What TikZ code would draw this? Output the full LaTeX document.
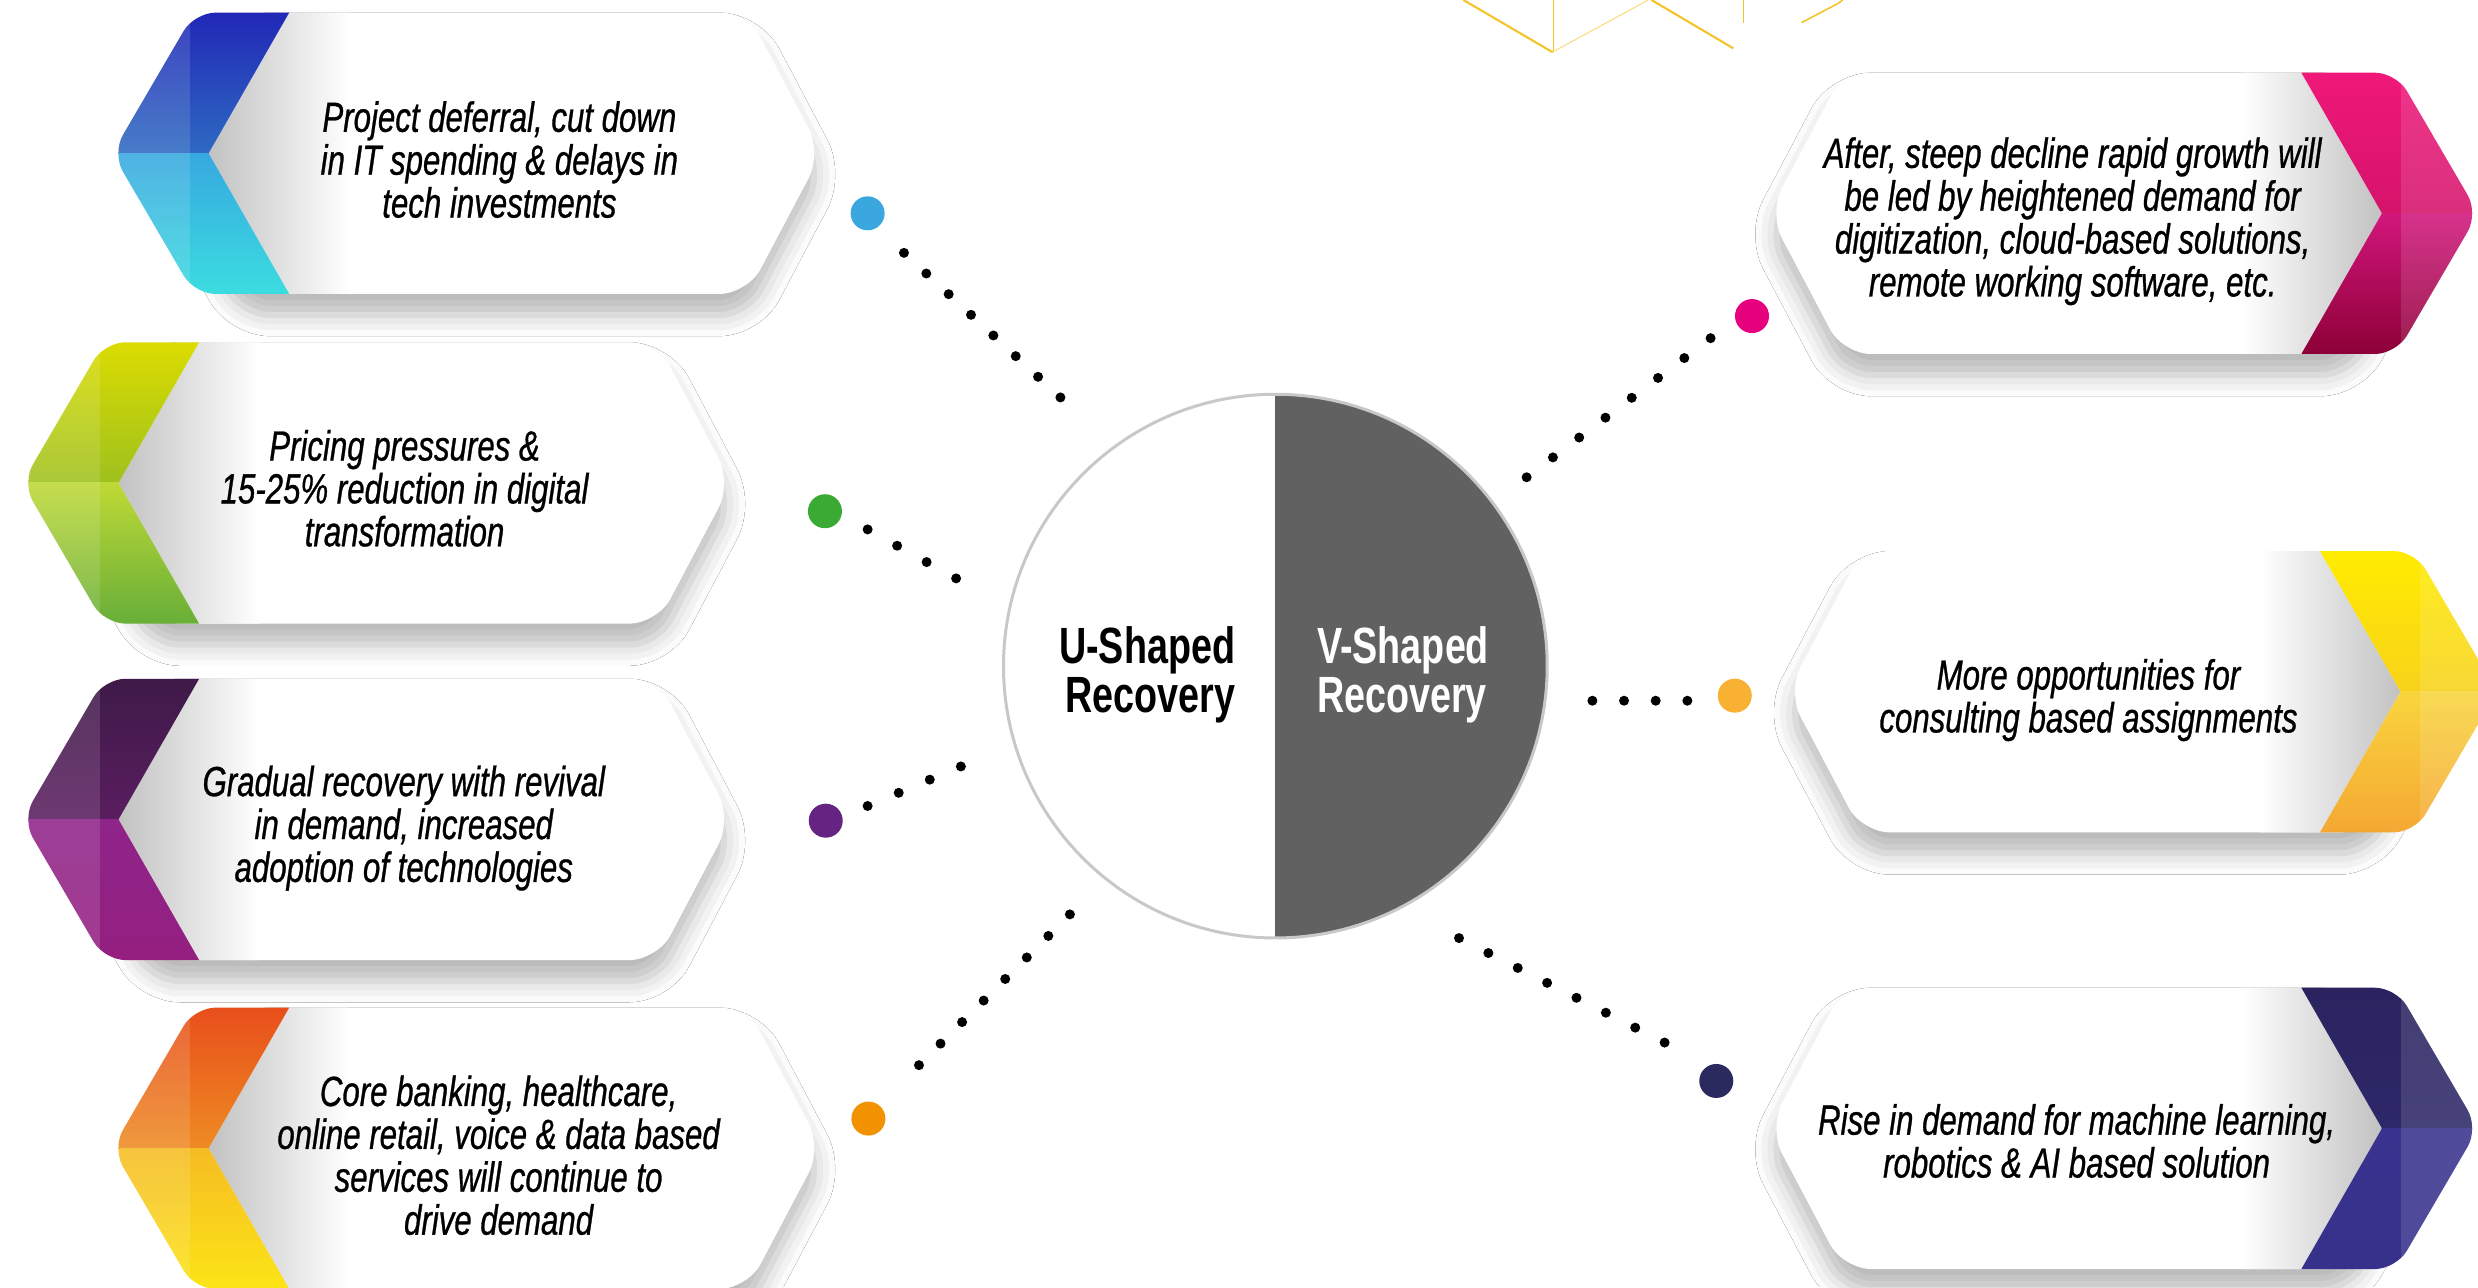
\documentclass[tikz,border=0pt]{standalone}
\usepackage{fontspec}
\newfontfamily\cardfont{Liberation Sans}[FakeStretch=0.74, FakeBold=0.7]
\newfontfamily\hubfont{Liberation Sans}[FakeStretch=0.74]
\usetikzlibrary{calc,shadows.blur}

\definecolor{blueA}{HTML}{2127B6}
\definecolor{blueB}{HTML}{2E6AC2}
\definecolor{blueC}{HTML}{37A8E0}
\definecolor{blueD}{HTML}{3BDDE0}
\definecolor{limeA}{HTML}{DCDC00}
\definecolor{limeB}{HTML}{9EC11E}
\definecolor{limeC}{HTML}{BED936}
\definecolor{limeD}{HTML}{67AE38}
\definecolor{plumA}{HTML}{3E1A48}
\definecolor{plumB}{HTML}{5A1D5F}
\definecolor{plumC}{HTML}{8F2489}
\definecolor{plumD}{HTML}{941F80}
\definecolor{amberA}{HTML}{E84E1B}
\definecolor{amberB}{HTML}{EE8B23}
\definecolor{amberC}{HTML}{F6BC23}
\definecolor{amberD}{HTML}{FCE516}
\definecolor{pinkA}{HTML}{F0187A}
\definecolor{pinkB}{HTML}{D5136B}
\definecolor{pinkC}{HTML}{D2167C}
\definecolor{pinkD}{HTML}{8C0036}
\definecolor{sunA}{HTML}{FFEC00}
\definecolor{sunB}{HTML}{F8D21A}
\definecolor{sunC}{HTML}{F9D53D}
\definecolor{sunD}{HTML}{F4A733}
\definecolor{navyA}{HTML}{2A2360}
\definecolor{navyB}{HTML}{2D2868}
\definecolor{navyC}{HTML}{39338F}
\definecolor{navyD}{HTML}{36318A}
\definecolor{hubgray}{HTML}{616161}
\definecolor{ringgray}{HTML}{C8C8C8}
\definecolor{gold}{HTML}{F5C42A}

% chevron card: tip x, centre y, xscale, palette, notch shade
\newcommand{\chevcard}[5]{%
    \begin{scope}[shift={(#1,#2)}, xscale=#3]
        \fill[white, rounded corners=8pt,
              blur shadow={shadow xshift=0pt, shadow yshift=-6pt,
                           shadow blur radius=6pt, shadow opacity=28}]
            (31,0) -- (82,-89) -- (402,-89) -- (449,0) -- (402,89) -- (82,89) -- cycle;
        \shade[#5] (61,0) -- (112,-89) -- (150,-89) -- (150,89) -- (112,89) -- cycle;
        \begin{scope}
            \clip (61,0) -- (112,-89) [rounded corners=6pt] -- (52,-89) -- (0,0)
                -- (52,89) [sharp corners] -- (112,89) -- cycle;
            \shade[top color=#4A, bottom color=#4B] (0,-90) rectangle (113,0);
            \shade[top color=#4C, bottom color=#4D] (0,0) rectangle (113,90);
            \fill[white, opacity=.12] (0,-90) rectangle (49,90);
        \end{scope}
    \end{scope}}

\begin{document}
\begin{tikzpicture} [
            x=0.15804mm, y=-0.15804mm,
            cardtext/.style = {font=\cardfont\itshape\fontsize{12}{12.2}\selectfont,
                               align=center, inner sep=0pt},
            hubtext/.style  = {font=\hubfont\bfseries\fontsize{14.5}{12.2}\selectfont,
                               inner sep=0pt},
            bigdot/.style   = {circle, minimum size=3.4mm, inner sep=0pt},
            shadeL/.style   = {left color=black!24, right color=white},
            shadeR/.style   = {left color=white, right color=black!24},
        ]

            \useasboundingbox (0,0) rectangle (1568,814.4);
            \fill[white] (0,0) rectangle (1568,814.4);

            % gold lines at the top
            \draw[gold, line width=0.6pt] (926,0) -- (981.8,32.7) -- (982.9,32.7);
            \draw[gold, line width=0.3pt] (982.9,0) -- (982.9,32.7);
            \draw[gold!60, line width=0.3pt] (982.9,32.7) -- (1043,0);
            \draw[gold, line width=0.6pt] (1045,0) -- (1096.8,30.6);
            \draw[gold, line width=0.3pt] (1103,0) -- (1103,14.3);
            \draw[gold, line width=0.45pt] (1140,14.3) -- (1163.2,2.1) -- (1166,0);

            \chevcard{71}{97}{1}{blue}{shadeL}
            \chevcard{14}{305.6}{1}{lime}{shadeL}
            \chevcard{14}{518.5}{1}{plum}{shadeL}
            \chevcard{71}{726.6}{1}{amber}{shadeL}
            \chevcard{1568.2}{135}{-1}{pink}{shadeR}
            \chevcard{1580}{437.7}{-1}{sun}{shadeR}
            \chevcard{1568.2}{714}{-1}{navy}{shadeR}

            \node[cardtext] (L1) at (316,101)
                {Project deferral, cut down\\in IT spending \& delays in\\tech investments};
            \node[cardtext] (L2) at (256,309)
                {Pricing pressures \&\\15-25\% reduction in digital\\transformation};
            \node[cardtext] (L3) at (255.5,524)
                {Gradual recovery with revival\\in demand, increased\\adoption of technologies};
            \node[cardtext] (L4) at (315.5,731)
                {Core banking, healthcare,\\online retail, voice \& data based\\services will continue to\\drive demand};
            \node[cardtext] (R1) at (1311.5,140)
                {After, steep decline rapid growth will\\be led by heightened demand for\\digitization, cloud-based solutions,\\remote working software, etc.};
            \node[cardtext] (R2) at (1321.5,443)
                {More opportunities for\\consulting based assignments};
            \node[cardtext] (R3) at (1314,722)
                {Rise in demand for machine learning,\\robotics \& AI based solution};

            \node[circle, minimum size=54.37mm, fill=white, draw=ringgray, line width=0.85pt,
                  path picture={\fill[hubgray] (path picture bounding box.north)
                                rectangle (path picture bounding box.south east);}]
                (H) at (807,421.5) {};
            \node[hubtext, anchor=east, align=right] (U) at (782,427) {U-Shaped\\Recovery};
            \node[hubtext, anchor=west, align=left, text=white] (V) at (833,427) {V-Shaped\\Recovery};

            \node[bigdot, fill={rgb,255:red,59;green,167;blue,223}] (dL1) at (549,135) {};
            \node[bigdot, fill={rgb,255:red,58;green,170;blue,53}]  (dL2) at (522,323.5) {};
            \node[bigdot, fill={rgb,255:red,102;green,36;blue,130}] (dL3) at (522.5,519.3) {};
            \node[bigdot, fill={rgb,255:red,243;green,146;blue,0}]  (dL4) at (549.5,707.8) {};
            \node[bigdot, fill={rgb,255:red,230;green,0;blue,126}]  (dR1) at (1108.6,200) {};
            \node[bigdot, fill={rgb,255:red,248;green,177;blue,51}] (dR2) at (1097.7,440.2) {};
            \node[bigdot, fill={rgb,255:red,43;green,42;blue,95}]   (dR3) at (1086,684) {};

            \coordinate (aL1) at (572,160);    \coordinate (bL1) at (671,251.5);
            \coordinate (aL2) at (549,335);    \coordinate (bL2) at (605,366);
            \coordinate (aL3) at (549,510);    \coordinate (bL3) at (608,485);
            \coordinate (aL4) at (581.5,674);  \coordinate (bL4) at (677,578.6);
            \coordinate (aR1) at (1082.4,214); \coordinate (bR1) at (966,302);
            \coordinate (aR2) at (1067.7,443.4); \coordinate (bR2) at (1007.6,443.4);
            \coordinate (aR3) at (1053.3,659.7); \coordinate (bR3) at (923.2,593.6);

            \foreach \a/\b/\n in {aL1/bL1/7, aL2/bL2/3, aL3/bL3/3, aL4/bL4/7,
                                  aR1/bR1/7, aR2/bR2/3, aR3/bR3/7}
                \foreach \i in {0,...,\n}
                    \fill ($(\a)!\i/\n!(\b)$) circle[radius=0.5mm];
        \end{tikzpicture}
\end{document}
